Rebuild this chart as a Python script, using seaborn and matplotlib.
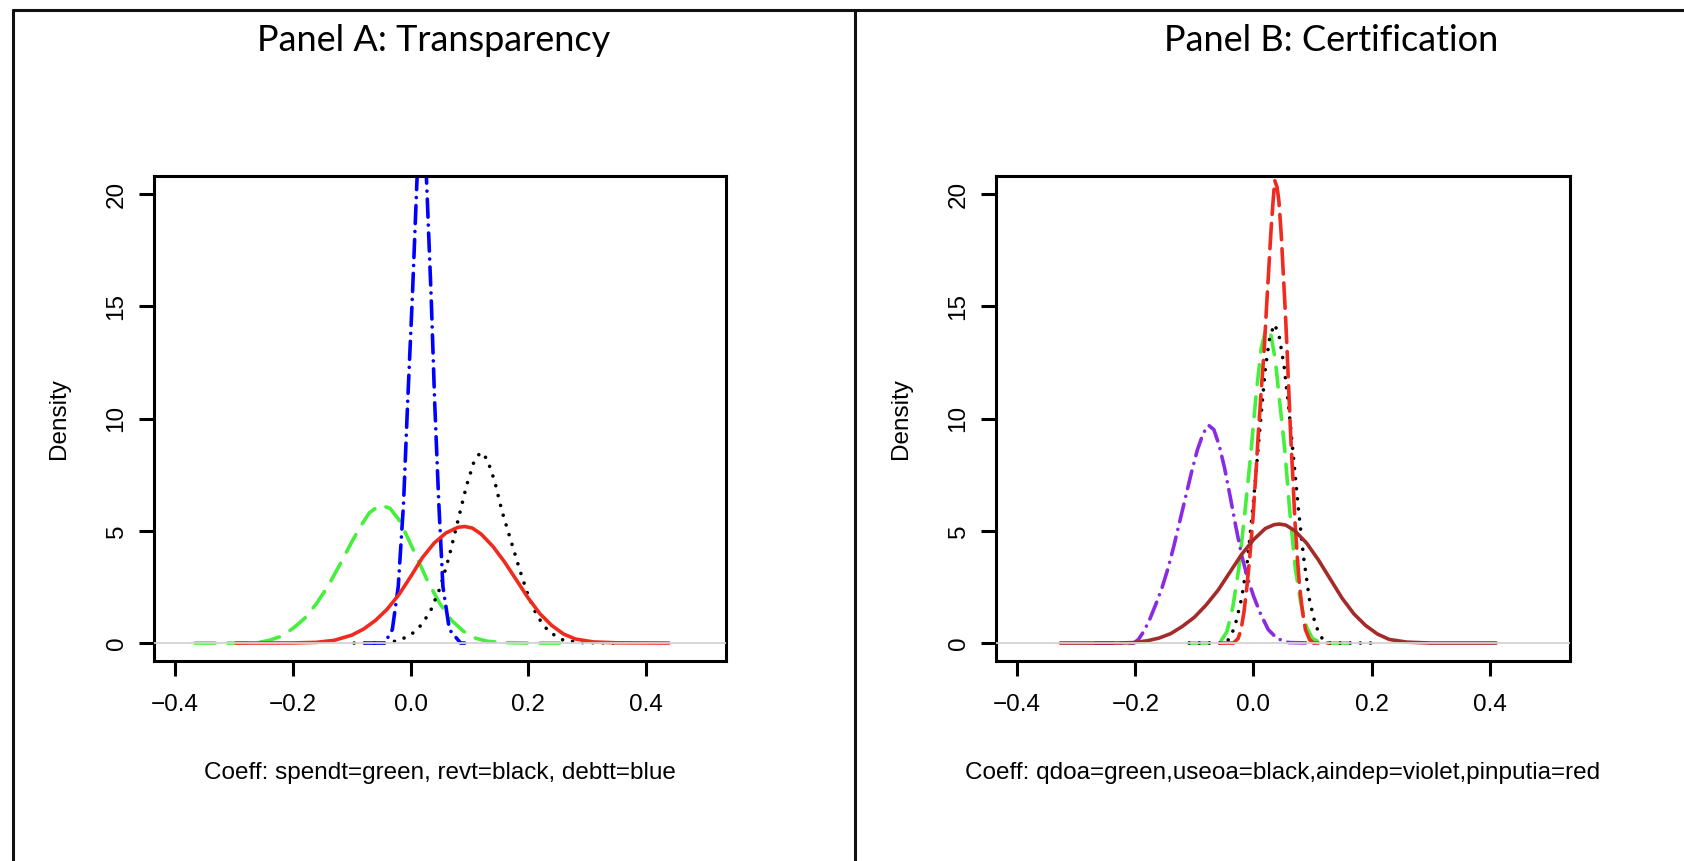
import seaborn as sns
import matplotlib.pyplot as plt
from matplotlib.lines import Line2D

# Valores (coeficiente, densidad)

# Panel A: Transparency
spendt_x = [-0.366, -0.30, -0.26, -0.24, -0.22, -0.20, -0.18, -0.16, -0.14, -0.12, -0.10,
            -0.085, -0.07, -0.052, -0.035, -0.02, -0.005, 0.01, 0.03, 0.05, 0.07, 0.09,
            0.11, 0.13, 0.16, 0.20, 0.254]
spendt_y = [0, 0, 0.02, 0.12, 0.3, 0.65, 1.1, 1.75, 2.55, 3.5, 4.5,
            5.2, 5.8, 6.15, 6.0, 5.5, 4.7, 3.85, 2.7, 1.75, 1.0, 0.52,
            0.22, 0.08, 0.02, 0, 0]

revt_x = [-0.096, -0.04, -0.02, 0.0, 0.02, 0.035, 0.05, 0.065, 0.08, 0.095, 0.108,
          0.119, 0.130, 0.143, 0.155, 0.17, 0.185, 0.20, 0.215, 0.235, 0.26, 0.29, 0.348]
revt_y = [0, 0, 0.12, 0.35, 0.85, 1.5, 2.45, 3.8, 5.4, 7.0, 8.1,
          8.5, 8.2, 7.2, 5.9, 4.6, 3.3, 2.1, 1.2, 0.5, 0.12, 0.02, 0]

debtt_x = [-0.077, -0.044, -0.031, -0.021, -0.012, -0.005, 0.003, 0.011, 0.019, 0.027,
           0.035, 0.041, 0.048, 0.055, 0.066, 0.085, 0.092]
debtt_y = [0, 0, 0.6, 2.5, 6.2, 10.7, 15.4, 20.7, 23.0, 20.7,
           15.4, 10.7, 6.2, 2.5, 0.6, 0, 0]

totalA_x = [-0.297, -0.20, -0.16, -0.13, -0.10, -0.08, -0.06, -0.04, -0.02, 0.0, 0.02,
            0.04, 0.06, 0.08, 0.092, 0.105, 0.12, 0.14, 0.16, 0.18, 0.20, 0.22, 0.24,
            0.26, 0.28, 0.31, 0.35, 0.439]
totalA_y = [0, 0.005, 0.03, 0.12, 0.35, 0.62, 1.0, 1.5, 2.15, 2.95, 3.8,
            4.45, 4.9, 5.15, 5.19, 5.12, 4.85, 4.3, 3.6, 2.8, 2.0, 1.3, 0.78,
            0.4, 0.18, 0.05, 0.01, 0]

# Panel B: Certification
qdoa_x = [-0.109, -0.067, -0.055, -0.045, -0.035, -0.025, -0.015, -0.005, 0.005, 0.013,
          0.021, 0.029, 0.037, 0.045, 0.053, 0.062, 0.071, 0.08, 0.09, 0.10, 0.115, 0.164]
qdoa_y = [0, 0, 0.1, 0.5, 1.6, 3.3, 5.7, 8.3, 11.2, 13.1,
          14.0, 13.8, 12.6, 10.6, 8.6, 5.7, 3.3, 1.8, 0.7, 0.2, 0, 0]

useoa_x = [-0.109, -0.047, -0.038, -0.03, -0.02, -0.01, 0.0, 0.01, 0.02, 0.028,
           0.036, 0.044, 0.052, 0.06, 0.068, 0.076, 0.085, 0.095, 0.105, 0.115, 0.125, 0.200]
useoa_y = [0, 0, 0.3, 0.9, 2.0, 3.7, 6.3, 9.3, 12.2, 13.7,
           14.2, 13.6, 12.3, 10.4, 8.2, 6.0, 3.8, 1.9, 0.8, 0.25, 0, 0]

aindep_x = [-0.268, -0.203, -0.195, -0.185, -0.175, -0.165, -0.155, -0.145, -0.135, -0.125,
            -0.115, -0.105, -0.095, -0.085, -0.076, -0.067, -0.058, -0.049, -0.040, -0.030,
            -0.020, -0.010, 0.0, 0.012, 0.025, 0.04, 0.06, 0.102]
aindep_y = [0, 0, 0.15, 0.55, 1.1, 1.75, 2.45, 3.3, 4.3, 5.4,
            6.5, 7.6, 8.6, 9.35, 9.7, 9.5, 8.8, 7.8, 6.6, 5.2,
            3.9, 2.9, 2.1, 1.3, 0.6, 0.2, 0.02, 0]

pinputia_x = [-0.057, -0.034, -0.026, -0.021, -0.016, -0.011, -0.006, -0.001, 0.004, 0.008,
              0.013, 0.018, 0.022, 0.026, 0.030, 0.033, 0.036, 0.040, 0.043, 0.047,
              0.050, 0.054, 0.057, 0.060, 0.063, 0.067, 0.070, 0.074, 0.078, 0.083,
              0.088, 0.095, 0.102, 0.128]
pinputia_y = [0, 0, 0.2, 0.6, 1.4, 2.54, 3.9, 5.52, 7.5, 9.25,
              11.2, 13.0, 14.9, 16.7, 18.5, 19.6, 20.6, 20.3, 19.7, 18.2,
              16.7, 14.7, 13.0, 11.1, 9.25, 7.2, 5.52, 3.9, 2.54, 1.4,
              0.6, 0.15, 0, 0]

totalB_x = [-0.327, -0.23, -0.203, -0.18, -0.16, -0.14, -0.12, -0.10, -0.08, -0.06,
            -0.04, -0.02, 0.0, 0.02, 0.035, 0.044, 0.055, 0.07, 0.09, 0.11,
            0.13, 0.15, 0.17, 0.19, 0.21, 0.23, 0.26, 0.30, 0.411]
totalB_y = [0, 0, 0.02, 0.1, 0.22, 0.42, 0.75, 1.15, 1.7, 2.35,
            3.15, 3.95, 4.6, 5.1, 5.27, 5.3, 5.25, 5.0, 4.45, 3.7,
            2.85, 2.0, 1.3, 0.78, 0.4, 0.16, 0.04, 0, 0]

x_ticks = [-0.4, -0.2, 0.0, 0.2, 0.4]
x_tick_labels = ["\u22120.4", "\u22120.2", "0.0", "0.2", "0.4"]
y_ticks = [0, 5, 10, 15, 20]
y_tick_labels = ["0", "5", "10", "15", "20"]

titles = ["Panel A: Transparency", "Panel B: Certification"]
xlabels = ["Coeff: spendt=green, revt=black, debtt=blue",
           "Coeff: qdoa=green,useoa=black,aindep=violet,pinputia=red"]

# estilos de linea al estilo R
dashed = (0, (5.5, 3.5))
longdash = (0, (7, 2.5))
dotted = (0, (0.01, 2.8))
dotdash = (0, (5, 2.2, 0.01, 2.2))

sns.set_theme(style="white")
plt.rcParams['font.family'] = ['Liberation Sans', 'DejaVu Sans']

fig = plt.figure(figsize=(16.84, 8.61), dpi=100)
axA = fig.add_axes([154 / 1684, 1 - 661 / 861, 572 / 1684, 485 / 861])
axB = fig.add_axes([996 / 1684, 1 - 661 / 861, 574 / 1684, 485 / 861])

curvesA = [
    (spendt_x, spendt_y, "#45f03c", dashed),
    (revt_x, revt_y, "black", dotted),
    (debtt_x, debtt_y, "#0000ff", dotdash),
    (totalA_x, totalA_y, "#f02a1e", "-"),
]
curvesB = [
    (qdoa_x, qdoa_y, "#45f03c", dashed),
    (useoa_x, useoa_y, "black", dotted),
    (aindep_x, aindep_y, "#8a2be2", dotdash),
    (pinputia_x, pinputia_y, "#f02a1e", longdash),
    (totalB_x, totalB_y, "#a52a2a", "-"),
]

for ax, curves, xlab in [(axA, curvesA, xlabels[0]), (axB, curvesB, xlabels[1])]:
    for x, y, color, ls in curves:
        sns.lineplot(x=x, y=y, ax=ax, color=color, linestyle=ls, linewidth=2.6,
                     sort=False, estimator=None, dash_capstyle="round")
    ax.axhline(0, color="#d3d3d3", lw=1.3, zorder=5)

    ax.set_xlim(-0.436, 0.536)
    ax.set_ylim(-0.8, 20.8)
    ax.set_xticks(x_ticks, x_tick_labels)
    ax.set_yticks(y_ticks, y_tick_labels)
    ax.tick_params(axis="both", direction="out", length=11, width=2.2,
                   color="black", labelsize=17.5, labelcolor="black",
                   bottom=True, left=True)
    ax.tick_params(axis="x", pad=13)
    ax.tick_params(axis="y", pad=8)
    plt.setp(ax.get_yticklabels(), rotation=90, va="center")
    for s in ax.spines.values():
        s.set_linewidth(2.2)
        s.set_color("black")
        s.set_visible(True)

    ax.set_xlabel(xlab, fontsize=17.5, color="black")
    ax.xaxis.set_label_coords(0.5, -0.231)
    ax.xaxis.label.set_va("center")
    ax.set_ylabel("Density", fontsize=17.5, color="black")
    ax.yaxis.set_label_coords(-0.166, 0.5)
    ax.yaxis.label.set_va("center")

# titulos de cada celda
fig.text(434 / 1684, 1 - 51 / 861, titles[0], ha="center", va="baseline",
         fontsize=26, family=["Lato", "DejaVu Sans"], color="black")
fig.text(1331 / 1684, 1 - 51 / 861, titles[1], ha="center", va="baseline",
         fontsize=26, family=["Lato", "DejaVu Sans"], color="black")

# bordes de la tabla
border = dict(transform=fig.transFigure, color="#111111", lw=2.2)
fig.add_artist(Line2D([13 / 1684, 1], [1 - 9.5 / 861, 1 - 9.5 / 861], **border))
fig.add_artist(Line2D([13 / 1684, 13 / 1684], [0, 1 - 9.5 / 861], **border))
fig.add_artist(Line2D([855 / 1684, 855 / 1684], [0, 1 - 9.5 / 861], **border))

fig.savefig("out.png", dpi=100, facecolor="white")
